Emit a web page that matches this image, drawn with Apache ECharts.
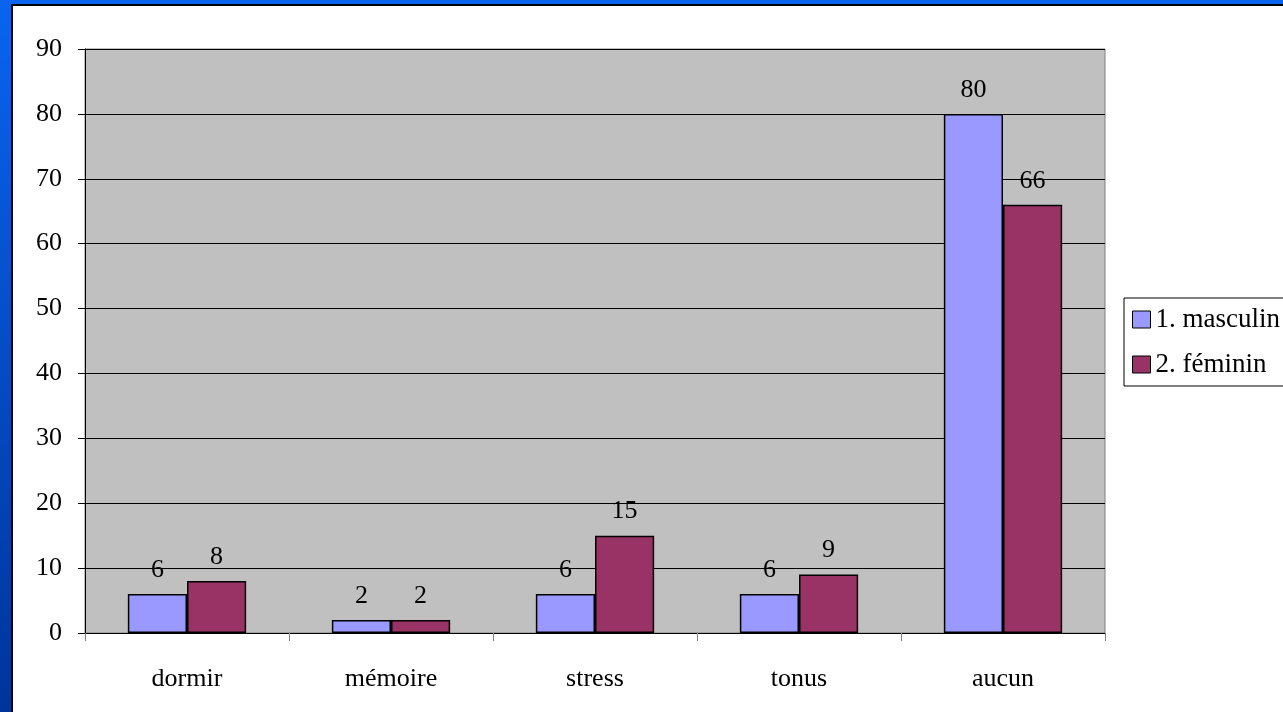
<!DOCTYPE html>
<html><head><meta charset="utf-8">
<script src="https://cdn.jsdelivr.net/npm/echarts@6/dist/echarts.min.js"></script>
<style>html,body{margin:0;padding:0;background:#fff}#c{width:1283px;height:712px}</style>
</head><body><div id="c"></div>
<script>
const categories = ['dormir','mémoire','stress','tonus','aucun'];
const masculin = [6,2,6,6,80];
const feminin = [8,2,15,9,66];
const seriesNames = ['1. masculin','2. féminin'];
const yTicks = {min:0,max:90,interval:10};
const font = '"Liberation Serif","Times New Roman",serif';
const chart = echarts.init(document.getElementById('c'));
const lbl = {show:true,position:'top',distance:11,color:'#000',fontFamily:font,fontSize:26};
chart.setOption({
  animation:false,
  backgroundColor:'#fff',
  graphic:[
    {type:'rect',left:0,top:0,shape:{width:11,height:712},style:{fill:new echarts.graphic.LinearGradient(0,0,0,1,[{offset:0,color:'#0a64f0'},{offset:1,color:'#00349a'}])},z:-1},
    {type:'rect',left:0,top:0,shape:{width:1283,height:4},style:{fill:'#0a64f0'},z:-1},
    {type:'rect',left:11,top:4,shape:{width:1272,height:2},style:{fill:'#000'},z:-1},
    {type:'rect',left:11,top:4,shape:{width:2,height:708},style:{fill:'#000'},z:-1}
  ],
  grid:{left:85,top:49,right:178,bottom:79,show:true,backgroundColor:'#c0c0c0',borderColor:'#808080',borderWidth:1},
  legend:{orient:'vertical',left:1124,top:298,itemWidth:18,itemHeight:17,itemGap:18,
    padding:[8,60,8,8],borderColor:'#000',borderWidth:1,backgroundColor:'#fff',borderRadius:0,
    textStyle:{fontFamily:font,fontSize:27,color:'#000',padding:[0,0,0,0]},
    data:seriesNames.map(n=>({name:n,icon:'rect',itemStyle:{borderColor:'#000',borderWidth:1}}))},
  xAxis:{type:'category',data:categories,
    axisLine:{lineStyle:{color:'#000'}},
    axisTick:{show:true,length:8,lineStyle:{color:'#808080'}},
    axisLabel:{color:'#000',fontFamily:font,fontSize:26,margin:33}},
  yAxis:{type:'value',min:yTicks.min,max:yTicks.max,interval:yTicks.interval,
    axisLine:{show:true,lineStyle:{color:'#000'}},
    axisTick:{show:true,length:7,lineStyle:{color:'#000'}},
    axisLabel:{color:'#000',fontFamily:font,fontSize:26,margin:23},
    splitLine:{lineStyle:{color:'#000',width:1}}},
  series:[
    {name:seriesNames[0],type:'bar',data:masculin,barGap:'0%',barCategoryGap:'42%',
     itemStyle:{color:'#9999ff',borderColor:'#000',borderWidth:1.5},label:lbl},
    {name:seriesNames[1],type:'bar',data:feminin,barGap:'0%',barCategoryGap:'42%',
     itemStyle:{color:'#993366',borderColor:'#000',borderWidth:1.5},label:lbl}
  ]
});
</script></body></html>
